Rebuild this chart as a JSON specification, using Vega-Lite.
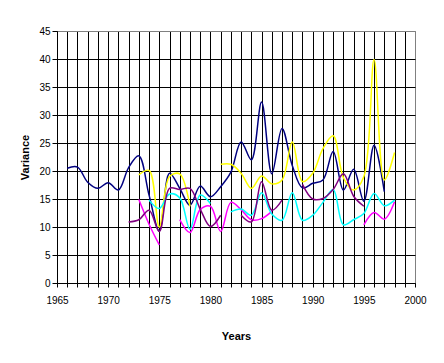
{
  "$schema": "https://vega.github.io/schema/vega-lite/v6.json",
  "width": 358,
  "height": 252,
  "autosize": {"type": "none"},
  "padding": {"left": 57, "top": 31, "right": 29, "bottom": 80},
  "background": "white",
  "config": {
    "view": {"stroke": "#808080", "strokeWidth": 1},
    "font": "Liberation Sans"
  },
  "data": {
    "values": [
      {"year": 1966, "s": "A", "v": 20.5}, {"year": 1967, "s": "A", "v": 20.7}, {"year": 1968, "s": "A", "v": 18.0}, {"year": 1969, "s": "A", "v": 16.9},
      {"year": 1970, "s": "A", "v": 17.9}, {"year": 1971, "s": "A", "v": 16.6}, {"year": 1972, "s": "A", "v": 20.6}, {"year": 1973, "s": "A", "v": 22.7},
      {"year": 1974, "s": "A", "v": 15.7}, {"year": 1975, "s": "A", "v": 9.3}, {"year": 1976, "s": "A", "v": 19.6}, {"year": 1977, "s": "A", "v": 16.9},
      {"year": 1978, "s": "A", "v": 13.9}, {"year": 1979, "s": "A", "v": 17.3}, {"year": 1980, "s": "A", "v": 15.4}, {"year": 1981, "s": "A", "v": 17.2},
      {"year": 1982, "s": "A", "v": 19.8}, {"year": 1983, "s": "A", "v": 25.2}, {"year": 1984, "s": "A", "v": 22.0}, {"year": 1985, "s": "A", "v": 32.3},
      {"year": 1986, "s": "A", "v": 19.5}, {"year": 1987, "s": "A", "v": 27.6}, {"year": 1988, "s": "A", "v": 21.0}, {"year": 1989, "s": "A", "v": 17.0},
      {"year": 1990, "s": "A", "v": 17.8}, {"year": 1991, "s": "A", "v": 18.4}, {"year": 1992, "s": "A", "v": 23.5}, {"year": 1993, "s": "A", "v": 16.6},
      {"year": 1994, "s": "A", "v": 20.3}, {"year": 1995, "s": "A", "v": 14.6}, {"year": 1996, "s": "A", "v": 24.6}, {"year": 1997, "s": "A", "v": 16.3},

      {"year": 1973, "s": "B", "v": 14.9}, {"year": 1974, "s": "B", "v": 10.5}, {"year": 1975, "s": "B", "v": 6.8}, {"year": 1976, "s": "B", "v": null},
      {"year": 1977, "s": "B", "v": 11.3}, {"year": 1978, "s": "B", "v": 9.0}, {"year": 1979, "s": "B", "v": 13.1}, {"year": 1980, "s": "B", "v": 13.7},
      {"year": 1981, "s": "B", "v": 9.2}, {"year": 1982, "s": "B", "v": 14.4}, {"year": 1983, "s": "B", "v": 13.1}, {"year": 1984, "s": "B", "v": 11.3},
      {"year": 1985, "s": "B", "v": 11.5}, {"year": 1986, "s": "B", "v": 12.8}, {"year": 1987, "s": "B", "v": null},
      {"year": 1995, "s": "B", "v": 10.4}, {"year": 1996, "s": "B", "v": 12.6}, {"year": 1997, "s": "B", "v": 11.4}, {"year": 1998, "s": "B", "v": 14.5},

      {"year": 1973, "s": "C", "v": 19.3}, {"year": 1974, "s": "C", "v": 20.1}, {"year": 1975, "s": "C", "v": 10.0}, {"year": 1976, "s": "C", "v": 19.0},
      {"year": 1977, "s": "C", "v": 19.5}, {"year": 1978, "s": "C", "v": 13.7}, {"year": 1979, "s": "C", "v": null}, {"year": 1980, "s": "C", "v": null},
      {"year": 1981, "s": "C", "v": 21.2}, {"year": 1982, "s": "C", "v": 21.2}, {"year": 1983, "s": "C", "v": 19.6}, {"year": 1984, "s": "C", "v": 16.9},
      {"year": 1985, "s": "C", "v": 19.1}, {"year": 1986, "s": "C", "v": 17.7}, {"year": 1987, "s": "C", "v": 18.4}, {"year": 1988, "s": "C", "v": 25.2},
      {"year": 1989, "s": "C", "v": 18.1}, {"year": 1990, "s": "C", "v": 19.6}, {"year": 1991, "s": "C", "v": 24.0}, {"year": 1992, "s": "C", "v": 26.3},
      {"year": 1993, "s": "C", "v": 18.8}, {"year": 1994, "s": "C", "v": 16.6}, {"year": 1995, "s": "C", "v": 19.0}, {"year": 1996, "s": "C", "v": 39.9},
      {"year": 1997, "s": "C", "v": 18.4}, {"year": 1998, "s": "C", "v": 23.3},

      {"year": 1974, "s": "D", "v": 14.8}, {"year": 1975, "s": "D", "v": 13.3}, {"year": 1976, "s": "D", "v": 15.9}, {"year": 1977, "s": "D", "v": 15.2},
      {"year": 1978, "s": "D", "v": 9.6}, {"year": 1979, "s": "D", "v": 15.7}, {"year": 1980, "s": "D", "v": 14.2}, {"year": 1981, "s": "D", "v": null},
      {"year": 1982, "s": "D", "v": 12.7}, {"year": 1983, "s": "D", "v": 13.2}, {"year": 1984, "s": "D", "v": 12.1}, {"year": 1985, "s": "D", "v": 16.1},
      {"year": 1986, "s": "D", "v": 12.3}, {"year": 1987, "s": "D", "v": 11.2}, {"year": 1988, "s": "D", "v": 16.1}, {"year": 1989, "s": "D", "v": 11.2},
      {"year": 1990, "s": "D", "v": 12.1}, {"year": 1991, "s": "D", "v": 14.4}, {"year": 1992, "s": "D", "v": 16.7}, {"year": 1993, "s": "D", "v": 10.4},
      {"year": 1994, "s": "D", "v": 11.3}, {"year": 1995, "s": "D", "v": 12.4}, {"year": 1996, "s": "D", "v": 16.0}, {"year": 1997, "s": "D", "v": 13.8},
      {"year": 1998, "s": "D", "v": 14.8},

      {"year": 1972, "s": "E", "v": 10.9}, {"year": 1973, "s": "E", "v": 11.3}, {"year": 1974, "s": "E", "v": 13.0}, {"year": 1975, "s": "E", "v": 9.2},
      {"year": 1976, "s": "E", "v": 16.9}, {"year": 1977, "s": "E", "v": 16.7}, {"year": 1978, "s": "E", "v": 16.9}, {"year": 1979, "s": "E", "v": 13.2},
      {"year": 1980, "s": "E", "v": 10.1}, {"year": 1981, "s": "E", "v": 12.1}, {"year": 1982, "s": "E", "v": null}, {"year": 1983, "s": "E", "v": 12.1},
      {"year": 1984, "s": "E", "v": 10.9}, {"year": 1985, "s": "E", "v": 18.1}, {"year": 1986, "s": "E", "v": 13.0}, {"year": 1987, "s": "E", "v": 14.8},
      {"year": 1988, "s": "E", "v": null}, {"year": 1989, "s": "E", "v": 17.6}, {"year": 1990, "s": "E", "v": 15.0}, {"year": 1991, "s": "E", "v": 15.1},
      {"year": 1992, "s": "E", "v": 16.7}, {"year": 1993, "s": "E", "v": 19.5}, {"year": 1994, "s": "E", "v": 15.5}, {"year": 1995, "s": "E", "v": 13.7}
    ]
  },
  "mark": {"type": "line", "interpolate": "catmull-rom", "strokeWidth": 1.5, "invalid": "break-paths-show-domains"},
  "encoding": {
    "x": {
      "field": "year", "type": "quantitative",
      "scale": {"domain": [1965, 2000], "nice": false, "zero": false},
      "axis": {
        "values": [1965,1966,1967,1968,1969,1970,1971,1972,1973,1974,1975,1976,1977,1978,1979,1980,1981,1982,1983,1984,1985,1986,1987,1988,1989,1990,1991,1992,1993,1994,1995,1996,1997,1998,1999,2000],
        "labelExpr": "datum.value % 5 === 0 ? datum.value + '' : ''",
        "labelOverlap": false,
        "labelFlush": false,
        "grid": true,
        "gridColor": {"condition": {"test": "datum.value === 2000", "value": "#808080"}, "value": "black"},
        "gridOpacity": 1,
        "gridWidth": 1,
        "domainColor": "black",
        "tickColor": "black",
        "tickSize": 4,
        "labelFontSize": 10,
        "labelColor": "black",
        "labelPadding": 8,
        "title": "Years",
        "titleFontSize": 11,
        "titleFontWeight": "bold",
        "titleColor": "black",
        "titlePadding": 25
      }
    },
    "y": {
      "field": "v", "type": "quantitative",
      "scale": {"domain": [0, 45], "nice": false},
      "axis": {
        "values": [0,5,10,15,20,25,30,35,40,45],
        "grid": true,
        "gridColor": {"condition": {"test": "datum.value === 45", "value": "#808080"}, "value": "black"},
        "gridOpacity": 1,
        "gridWidth": 1,
        "domainColor": "black",
        "tickColor": "black",
        "tickSize": 5,
        "labelFontSize": 10,
        "labelColor": "black",
        "labelPadding": 2,
        "title": "Variance",
        "titleFontSize": 11,
        "titleFontWeight": "bold",
        "titleColor": "black",
        "titlePadding": 8
      }
    },
    "color": {
      "field": "s", "type": "nominal", "legend": null,
      "scale": {"domain": ["A","B","C","D","E"], "range": ["#000080","#FF00FF","#FFFF00","#00FFFF","#800080"]}
    }
  }
}
